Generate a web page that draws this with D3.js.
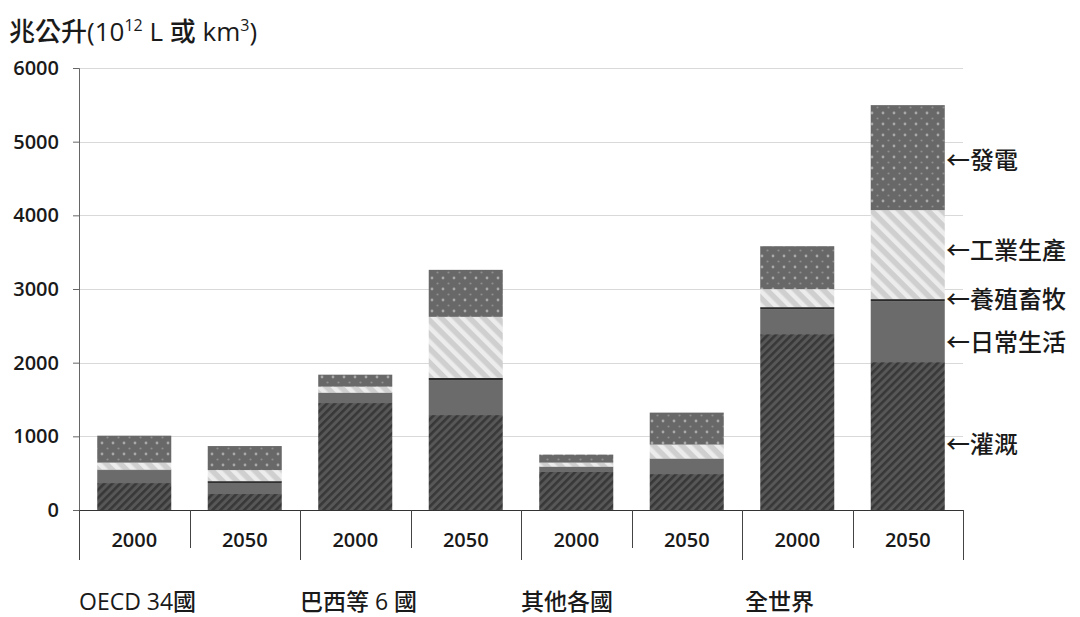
<!DOCTYPE html>
<html>
<head>
<meta charset="utf-8">
<script src="https://cdn.jsdelivr.net/npm/d3@7"></script>
<style>
  html, body { margin: 0; padding: 0; background: #fff; }
  svg text { font-family: "Open Sans", "Noto Sans CJK TC", sans-serif; fill: #1a1a1a; }
</style>
</head>
<body>
<svg id="chart" width="1080" height="617"></svg>
<script>
// ---- data ----
const years = ["2000", "2050", "2000", "2050", "2000", "2050", "2000", "2050"];
const groups = ["OECD 34國", "巴西等 6 國", "其他各國", "全世界"];
const irrigation  = [366, 217, 1452, 1289, 516, 488, 2388, 2008];
const domestic    = [176, 150, 136, 475, 68, 204, 339, 828];
const livestock   = [6, 25, 5, 30, 5, 6, 27, 27];
const industry    = [95, 150, 81, 828, 54, 190, 244, 1208];
const electricity = [366, 326, 163, 638, 109, 434, 583, 1425];
const seriesKeys   = ["irrigation", "domestic", "livestock", "industry", "electricity"];
const seriesLabels = ["灌溉", "日常生活", "養殖畜牧", "工業生產", "發電"];
const yTicks = [0, 1000, 2000, 3000, 4000, 5000, 6000];

const rows = years.map((yr, i) => ({
  idx: i, year: yr,
  irrigation: irrigation[i], domestic: domestic[i], livestock: livestock[i],
  industry: industry[i], electricity: electricity[i]
}));

const svg = d3.select("#chart");
const mLeft = 79, mRight = 963, mTop = 68, mBottom = 510;

const x = d3.scaleBand().domain(d3.range(years.length)).range([mLeft, mRight])
  .paddingInner(0.33).paddingOuter(0.165);
const y = d3.scaleLinear().domain([0, 6000]).range([mBottom, mTop]);

// ---- patterns ----
const defs = svg.append("defs");
function stripes(id, bg, fg, size, lw, angle) {
  const p = defs.append("pattern").attr("id", id).attr("patternUnits", "userSpaceOnUse")
    .attr("width", size).attr("height", size).attr("patternTransform", `rotate(${angle})`);
  p.append("rect").attr("width", size).attr("height", size).attr("fill", bg);
  p.append("rect").attr("x", 0).attr("width", lw).attr("height", size).attr("fill", fg);
}
stripes("pIrr", "#575757", "#383838", 5.6, 2.6, 45);
stripes("pInd", "#cfcfcf", "#ececec", 10, 4.5, -45);
const pd = defs.append("pattern").attr("id", "pEle").attr("patternUnits", "userSpaceOnUse")
  .attr("width", 11).attr("height", 11);
pd.append("rect").attr("width", 11).attr("height", 11).attr("fill", "#686868");
pd.append("circle").attr("cx", 3).attr("cy", 3).attr("r", 1.4).attr("fill", "#a9a9a9");
pd.append("circle").attr("cx", 8.5).attr("cy", 8.5).attr("r", 1.1).attr("fill", "#8e8e8e");

const fills = {
  irrigation: "url(#pIrr)", domestic: "#6b6b6b", livestock: "#2a2a2a",
  industry: "url(#pInd)", electricity: "url(#pEle)"
};

// ---- gridlines ----
svg.append("g").selectAll("line").data(yTicks.filter(d => d > 0)).join("line")
  .attr("x1", mLeft).attr("x2", mRight)
  .attr("y1", d => Math.round(y(d)) + 0.5).attr("y2", d => Math.round(y(d)) + 0.5)
  .attr("stroke", "#d9d9d9").attr("stroke-width", 1);

// ---- bars ----
const stack = d3.stack().keys(seriesKeys)(rows);
svg.append("g").selectAll("g").data(stack).join("g")
  .attr("fill", d => fills[d.key])
  .selectAll("rect").data(d => d).join("rect")
  .attr("x", d => x(d.data.idx))
  .attr("width", x.bandwidth())
  .attr("y", d => y(d[1]))
  .attr("height", d => y(d[0]) - y(d[1]));

// ---- y axis ----
const yAxis = svg.append("g").attr("transform", `translate(${mLeft},0)`)
  .call(d3.axisLeft(y).tickValues(yTicks).tickSize(6).tickPadding(14).tickFormat(d3.format("d")));
yAxis.select(".domain").attr("stroke", "#666");
yAxis.selectAll(".tick line").attr("stroke", "#666");
yAxis.selectAll("text").attr("font-size", 20).attr("font-weight", 600).attr("fill", "#1a1a1a")
  .style("font-family", "'Open Sans', sans-serif");

// ---- x axis ----
const xAxisG = svg.append("g");
xAxisG.append("line").attr("x1", mLeft).attr("x2", mRight)
  .attr("y1", mBottom + 0.5).attr("y2", mBottom + 0.5).attr("stroke", "#333").attr("stroke-width", 1.2);
const step = x.step();
const boundaries = d3.range(years.length + 1).map(i => mLeft + i * step);
xAxisG.selectAll("line.sep").data(boundaries).join("line").attr("class", "sep")
  .attr("x1", d => Math.round(d) + 0.5).attr("x2", d => Math.round(d) + 0.5)
  .attr("y1", mBottom).attr("y2", (d, i) => i % 2 === 0 ? 560 : 548)
  .attr("stroke", "#444").attr("stroke-width", 1);
xAxisG.selectAll("text.year").data(rows).join("text").attr("class", "year")
  .attr("x", d => x(d.idx) + x.bandwidth() / 2).attr("y", 547)
  .attr("text-anchor", "middle").attr("font-size", 20).attr("font-weight", 600)
  .text(d => d.year);
xAxisG.selectAll("text.group").data(groups).join("text").attr("class", "group")
  .attr("x", (d, i) => mLeft + i * 2 * step + (i === 3 ? 3 : 0)).attr("y", 610)
  .attr("font-size", 23).attr("font-weight", 500)
  .text(d => d);

// ---- title ----
const title = svg.append("text").attr("x", 9).attr("y", 41).attr("font-size", 26).attr("font-weight", 500);
title.append("tspan").text("兆公升(10");
title.append("tspan").attr("font-size", 16).attr("dy", -10).text("12");
title.append("tspan").attr("dy", 10).text(" L 或 km");
title.append("tspan").attr("font-size", 16).attr("dy", -10).text("3");
title.append("tspan").attr("dy", 10).text(")");

// ---- series labels (right side) ----
const lastIdx = rows.length - 1;
const labelOffsets = { irrigation: 8, domestic: 11, livestock: -1, industry: -4, electricity: 3 };
const labelData = stack.map((s, i) => {
  const d = s[lastIdx];
  return { key: s.key, label: seriesLabels[i], ymid: y((d[0] + d[1]) / 2) + labelOffsets[s.key] };
});
svg.append("g").selectAll("text").data(labelData).join("text")
  .attr("x", 946).attr("y", d => d.ymid).attr("dy", "0.36em")
  .attr("font-size", 24).attr("font-weight", 500)
  .text(d => "←" + d.label);
</script>
</body>
</html>
